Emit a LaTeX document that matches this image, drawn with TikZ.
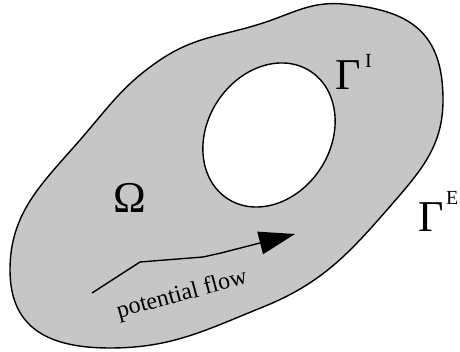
\documentclass[tikz,border=0pt]{standalone}
\usepackage{fontspec}
\setmainfont{Liberation Serif}
\usetikzlibrary{arrows.meta}
\definecolor{regiongray}{RGB}{198,198,198}
\tikzset{
  boundary/.style={draw=black, line width=1.4pt},
  biglabel/.style={inner sep=0pt, font=\fontsize{44}{44}\selectfont},
  suplabel/.style={inner sep=0pt, font=\fontsize{20}{20}\selectfont},
  flowarrow/.style={line width=1.4pt, -{Triangle[length=36pt,width=23pt]}},
}
\begin{document}
\begin{tikzpicture}[x=1pt,y=1pt]
\useasboundingbox (0,0) rectangle (460,352);
% outer boundary points
\coordinate (pA) at (343,348);
\coordinate (pB) at (443,252);
\coordinate (pC) at (393,149);
\coordinate (pD) at (263,45);
\coordinate (pE) at (110,4);
\coordinate (pF) at (10,82);
\coordinate (pG) at (80,212);
\coordinate (pH) at (160,292);
\coordinate (pI) at (263,329);
\path[boundary, fill=regiongray]
  (pA) to[out=-5, in=90, looseness=1.25] (pB)
       to[out=-90, in=49] (pC)
       to[out=-131, in=22] (pD)
       to[out=202, in=0] (pE)
       to[out=180, in=-90, looseness=1.2] (pF)
       to[out=90, in=229] (pG)
       to[out=49, in=214] (pH)
       to[out=34, in=198] (pI)
       to[out=18, in=175] (pA) -- cycle;
% hole
\coordinate (hc) at (269,217);
\path[boundary, fill=white, rotate around={57:(hc)}] (hc) ellipse (76pt and 61.5pt);
% labels
\node[biglabel, anchor=base] (omega) at (130,139) {Ω};
\node[biglabel, anchor=base west] (gi) at (335,262) {Γ};
\node[suplabel, anchor=base west] (gisup) at (365,284) {I};
\node[biglabel, anchor=base west] (ge) at (418,120) {Γ};
\node[suplabel, anchor=base west] (gesup) at (446,147) {E};
% flow arrow
\coordinate (fa) at (92,59);
\coordinate (fb) at (140,90);
\coordinate (fc) at (203,95);
\coordinate (fd) at (221,99);
\coordinate (fe) at (295,118);
\draw[flowarrow] (fa) -- (fb) -- (fc) -- (fd) -- (fe);
\node[inner sep=0pt, rotate=15, font=\fontsize{24}{24}\selectfont] (flowtxt) at (182,57) {potential flow};
\end{tikzpicture}
\end{document}
